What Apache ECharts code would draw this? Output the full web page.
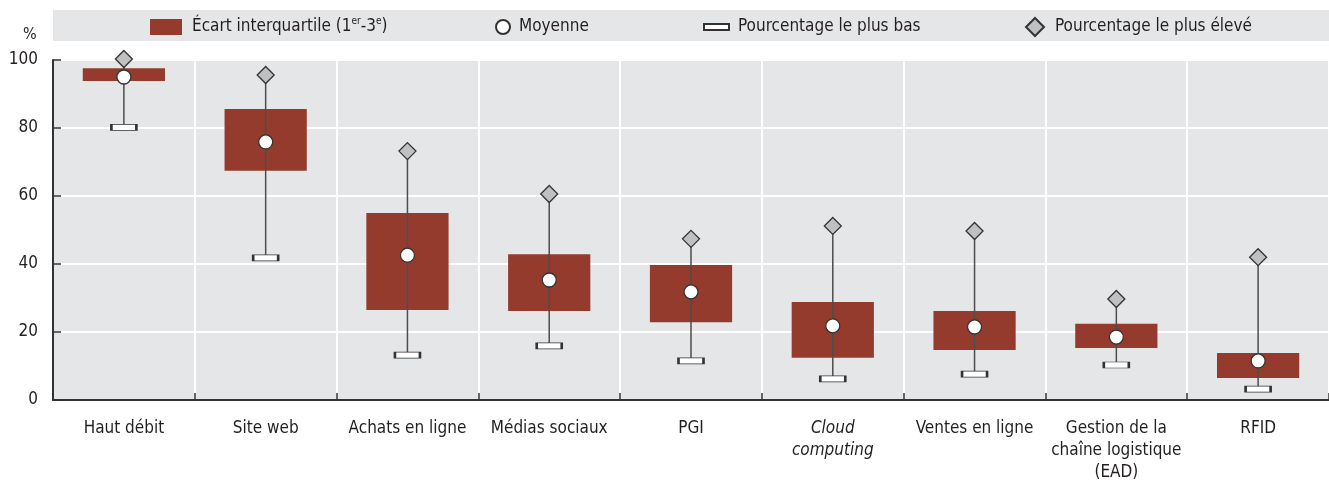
<!DOCTYPE html>
<html>
<head>
<meta charset="utf-8">
<script src="https://cdn.jsdelivr.net/npm/echarts@6/dist/echarts.min.js"></script>
<style>html,body{margin:0;padding:0;background:#fff}#c{width:1329px;height:480px}</style>
</head>
<body>
<div id="c"></div>
<script>
const categories = ['Haut débit', 'Site web', 'Achats en ligne', 'Médias sociaux', 'PGI', 'Cloud\ncomputing', 'Ventes en ligne', 'Gestion de la\nchaîne logistique\n(EAD)', 'RFID'];
const q1Values   = [93.8, 67.4, 26.5, 26.2, 22.9, 12.4, 14.7, 15.3, 6.5];
const q3Values   = [97.6, 85.6, 55.0, 42.9, 39.7, 28.8, 26.2, 22.4, 13.8];
const meanValues = [95.0, 75.9, 42.6, 35.3, 31.8, 21.8, 21.5, 18.5, 11.5];
const minValues  = [80.2, 41.8, 13.2, 15.9, 11.5, 6.2, 7.6, 10.3, 3.2];
const maxValues  = [100.3, 95.6, 73.2, 60.6, 47.4, 51.2, 49.7, 29.7, 42.0];
const yTicks = [0, 20, 40, 60, 80, 100];

const FONT = "'DejaVu Sans Condensed', 'DejaVu Sans', sans-serif";
const FS = 17;
const TXT = '#231f20';

const chart = echarts.init(document.getElementById('c'), null, {renderer: 'canvas'});

const boxData = categories.map((c, i) => [i, q1Values[i], q3Values[i]]);
const whiskerData = categories.map((c, i) => [i, minValues[i], maxValues[i]]);

const LTOP = 11;
const legendCommon = {
  top: LTOP, orient: 'horizontal', selectedMode: false
};
const lt = pad => ({fontFamily: FONT, fontSize: FS, color: TXT, lineHeight: 22, padding: [0, 0, 0, pad]});

const option = {
  animation: false,
  backgroundColor: '#fff',
  textStyle: {fontFamily: FONT},
  graphic: [
    {type: 'rect', left: 53, top: 10, z: -10, shape: {width: 1276, height: 31}, style: {fill: '#e5e6e8'}},
    {type: 'text', left: 23, top: 27, style: {text: '%', font: (FS - 1) + 'px ' + FONT, fill: TXT}}
  ],
  legend: [
    Object.assign({}, legendCommon, {left: 145, itemWidth: 32, itemHeight: 16,
      data: [{name: 'box', icon: 'rect'}],
      formatter: () => '{a|Écart interquartile (1}{s|er}{a|-3}{s|e}{a|)}',
      textStyle: Object.assign(lt(5), {
        rich: {a: {fontFamily: FONT, fontSize: FS, color: TXT, lineHeight: 22},
               s: {fontFamily: FONT, fontSize: 10, color: TXT, verticalAlign: 'top', lineHeight: 22, padding: [0, 0, 6, 0]}}})}),
    Object.assign({}, legendCommon, {left: 490, itemWidth: 14, itemHeight: 14,
      textStyle: lt(4),
      data: [{name: 'Moyenne', icon: 'circle'}]}),
    Object.assign({}, legendCommon, {left: 698, itemWidth: 25, itemHeight: 6,
      textStyle: lt(4),
      data: [{name: 'Pourcentage le plus bas', icon: 'rect'}]}),
    Object.assign({}, legendCommon, {left: 1020, itemWidth: 18, itemHeight: 18,
      textStyle: lt(6),
      data: [{name: 'Pourcentage le plus élevé', icon: 'diamond'}]})
  ],
  grid: {left: 53, right: 0, top: 60, bottom: 80, containLabel: false, outerBoundsMode: 'none',
    show: true, backgroundColor: '#e5e6e8', borderWidth: 0},
  xAxis: {
    type: 'category',
    data: categories.map(c => c.startsWith('Cloud') ? {value: c, textStyle: {fontStyle: 'italic'}} : c),
    boundaryGap: true,
    axisLine: {lineStyle: {color: '#333', width: 2}},
    axisTick: {show: true, inside: true, length: 7, lineStyle: {color: '#333', width: 1.5}},
    axisLabel: {fontFamily: FONT, fontSize: FS, color: TXT, margin: 18, lineHeight: 22, interval: 0},
    splitLine: {show: true, lineStyle: {color: '#fff', width: 2}}
  },
  yAxis: {
    type: 'value', min: 0, max: 100, interval: 20,
    axisLine: {show: true, lineStyle: {color: '#333', width: 2}},
    axisTick: {show: true, inside: true, length: 8, lineStyle: {color: '#333', width: 1.5}},
    axisLabel: {fontFamily: FONT, fontSize: FS, color: TXT, margin: 15,
      formatter: v => yTicks.includes(v) ? String(v) : ''},
    splitLine: {show: true, lineStyle: {color: '#fff', width: 2}}
  },
  series: [
    {
      name: 'box', type: 'custom', z: 2, clip: false,
      itemStyle: {color: '#953b2e'},
      encode: {x: 0, y: [1, 2]},
      data: boxData,
      renderItem: (params, api) => {
        const i = api.value(0);
        const p1 = api.coord([i, api.value(1)]);
        const p3 = api.coord([i, api.value(2)]);
        const w = api.size([1, 0])[0] * 0.58;
        return {type: 'rect', shape: {x: p1[0] - w / 2, y: p3[1], width: w, height: p1[1] - p3[1]},
          style: {fill: '#953b2e'}};
      }
    },
    {
      name: 'whisker', type: 'custom', z: 3, clip: false,
      encode: {x: 0, y: [1, 2]},
      data: whiskerData,
      renderItem: (params, api) => {
        const i = api.value(0);
        const a = api.coord([i, api.value(1)]);
        const b = api.coord([i, api.value(2)]);
        return {type: 'line', shape: {x1: a[0], y1: a[1], x2: b[0], y2: b[1]},
          style: {stroke: '#4d4d4d', lineWidth: 1.5}};
      }
    },
    {
      name: 'Pourcentage le plus bas', type: 'scatter', z: 4, clip: false,
      symbol: 'rect', symbolSize: [25, 6],
      itemStyle: {color: '#fff', borderColor: '#333', borderWidth: 1.3, opacity: 1},
      data: minValues.map((v, i) => [i, v])
    },
    {
      name: 'Pourcentage le plus élevé', type: 'scatter', z: 4, clip: false,
      symbol: 'diamond', symbolSize: [17, 17],
      itemStyle: {color: '#bfc0c2', borderColor: '#333', borderWidth: 1.3, opacity: 1},
      data: maxValues.map((v, i) => [i, v])
    },
    {
      name: 'Moyenne', type: 'scatter', z: 5, clip: false,
      symbol: 'circle', symbolSize: 14,
      itemStyle: {color: '#fff', borderColor: '#333', borderWidth: 1.3, opacity: 1},
      data: meanValues.map((v, i) => [i, v])
    }
  ]
};
chart.setOption(option);
</script>
</body>
</html>
